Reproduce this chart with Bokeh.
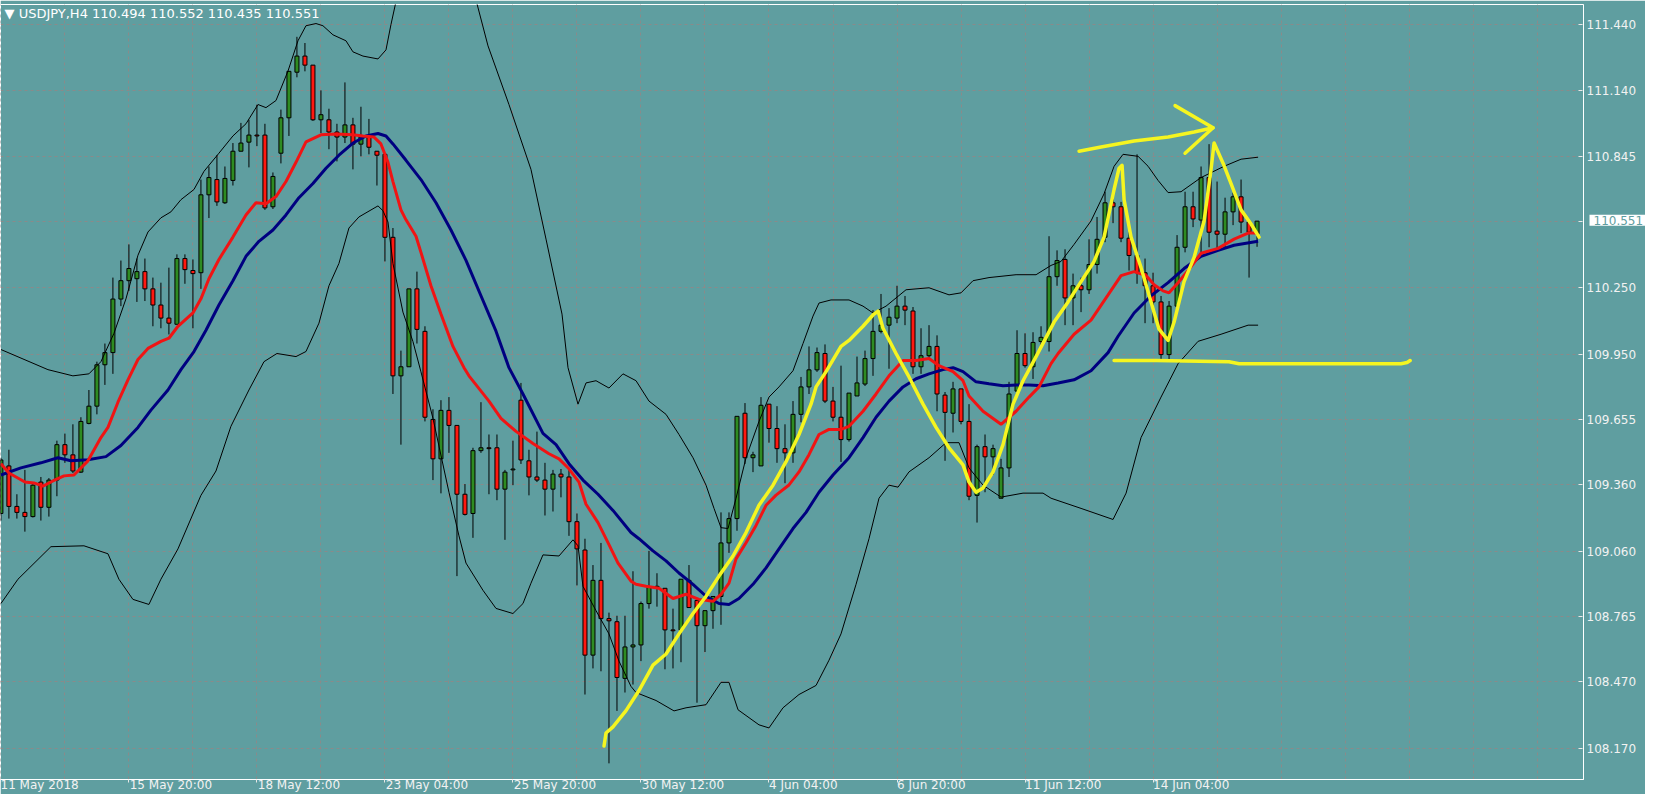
import numpy as np
from bokeh.plotting import figure
from bokeh.models import Range1d, FixedTicker, PrintfTickFormatter, Label, ColumnDataSource
from bokeh.embed import file_html
from bokeh.resources import INLINE

# ---------------- data (USDJPY H4) ----------------
opens = [109.230, 109.445, 109.262, 109.235, 109.216, 109.372, 109.258, 109.381, 109.541, 109.495,
         109.417, 109.637, 109.715, 109.902, 109.957, 110.199, 110.282, 110.291, 110.323, 110.245,
         110.172, 110.113, 110.085, 110.382, 110.328, 110.318, 110.670, 110.739, 110.634, 110.735,
         110.867, 110.908, 110.940, 110.940, 110.616, 110.858, 111.018, 111.224, 111.297, 111.256,
         111.009, 111.009, 110.954, 110.931, 110.986, 110.899, 110.936, 110.867, 110.853, 110.478,
         109.852, 109.893, 110.245, 110.053, 109.655, 109.477, 109.696, 109.628, 109.317, 109.230,
         109.514, 109.527, 109.527, 109.340, 109.427, 109.742, 109.468, 109.395, 109.381, 109.340,
         109.408, 109.395, 109.193, 109.065, 108.590, 108.928, 108.755, 108.741, 108.485, 108.627,
         108.636, 108.823, 108.896, 108.892, 108.704, 108.704, 108.928, 108.837, 108.723, 108.791,
         108.855, 109.097, 109.207, 109.683, 109.482, 109.445, 109.724, 109.614, 109.523, 109.504,
         109.678, 109.802, 109.879, 109.953, 109.738, 109.665, 109.564, 109.761, 109.815, 109.930,
         110.053, 110.081, 110.113, 110.167, 110.145, 109.893, 109.943, 109.985, 109.765, 109.683,
         109.793, 109.646, 109.312, 109.532, 109.486, 109.299, 109.436, 109.783, 109.953, 109.893,
         110.007, 110.007, 110.300, 110.378, 110.204, 110.259, 110.241, 110.355, 110.478, 110.634,
         110.616, 110.474, 110.396, 110.318, 110.259, 110.186, 109.948, 110.167, 110.433, 110.616,
         110.556, 110.748, 110.506, 110.492, 110.593, 110.661, 110.547, 110.494]
highs = [109.482, 109.518, 109.317, 109.427, 109.367, 109.395, 109.390, 109.559, 109.591, 109.633,
         109.665, 109.788, 109.916, 109.998, 110.296, 110.373, 110.446, 110.382, 110.382, 110.296,
         110.273, 110.341, 110.401, 110.401, 110.378, 110.739, 110.798, 110.849, 110.798, 110.904,
         110.995, 111.009, 111.077, 110.991, 110.771, 111.055, 111.228, 111.384, 111.356, 111.256,
         111.142, 111.059, 110.991, 111.178, 111.018, 111.068, 111.013, 110.867, 110.853, 110.520,
         109.966, 110.245, 110.323, 110.076, 109.701, 109.742, 109.756, 109.628, 109.363, 109.527,
         109.733, 109.587, 109.587, 109.427, 109.559, 109.820, 109.518, 109.600, 109.459, 109.427,
         109.431, 109.427, 109.230, 109.116, 108.997, 109.097, 108.782, 108.768, 108.768, 108.969,
         108.832, 109.061, 108.960, 108.892, 108.800, 108.933, 108.997, 108.837, 108.791, 108.855,
         109.235, 109.235, 109.669, 109.729, 109.509, 109.756, 109.724, 109.715, 109.633, 109.738,
         109.847, 109.985, 109.980, 109.994, 109.802, 109.898, 109.774, 109.939, 109.966, 110.149,
         110.222, 110.158, 110.259, 110.213, 110.163, 110.067, 110.081, 110.035, 109.779, 109.825,
         109.793, 109.724, 109.541, 109.587, 109.541, 109.477, 109.825, 110.058, 110.044, 110.049,
         110.076, 110.483, 110.419, 110.424, 110.314, 110.296, 110.469, 110.570, 110.684, 110.684,
         110.638, 110.501, 110.853, 110.382, 110.318, 110.213, 110.190, 110.488, 110.684, 110.684,
         110.798, 110.899, 110.730, 110.657, 110.680, 110.739, 110.547, 110.552]
lows = [109.198, 109.207, 109.207, 109.148, 109.212, 109.198, 109.216, 109.308, 109.459, 109.413,
        109.413, 109.633, 109.678, 109.811, 109.861, 110.167, 110.236, 110.186, 110.190, 110.076,
        110.067, 110.039, 110.085, 110.268, 110.067, 110.245, 110.565, 110.620, 110.629, 110.712,
        110.867, 110.794, 110.890, 110.602, 110.606, 110.812, 110.936, 111.201, 111.228, 111.004,
        110.949, 110.876, 110.821, 110.904, 110.785, 110.844, 110.853, 110.712, 110.369, 109.770,
        109.541, 109.893, 109.998, 109.646, 109.381, 109.321, 109.504, 108.947, 109.221, 109.120,
        109.504, 109.317, 109.290, 109.111, 109.358, 109.454, 109.312, 109.372, 109.221, 109.239,
        109.303, 109.129, 108.905, 108.412, 108.530, 108.517, 108.101, 108.338, 108.421, 108.457,
        108.563, 108.800, 108.809, 108.526, 108.530, 108.558, 108.805, 108.375, 108.604, 108.709,
        108.727, 109.052, 109.152, 109.454, 109.417, 109.445, 109.550, 109.459, 109.367, 109.459,
        109.642, 109.770, 109.870, 109.729, 109.646, 109.463, 109.555, 109.761, 109.806, 109.852,
        110.044, 109.884, 110.090, 110.081, 109.861, 109.861, 109.930, 109.692, 109.468, 109.596,
        109.633, 109.290, 109.189, 109.326, 109.404, 109.299, 109.395, 109.783, 109.889, 109.838,
        109.985, 109.962, 110.259, 110.081, 110.081, 110.140, 110.222, 110.314, 110.456, 110.542,
        110.456, 110.328, 110.268, 110.090, 110.090, 109.921, 109.925, 110.154, 110.410, 110.524,
        110.410, 110.433, 110.428, 110.428, 110.533, 110.497, 110.296, 110.435]
closes = [109.472, 109.262, 109.235, 109.216, 109.358, 109.258, 109.381, 109.541, 109.495, 109.422,
          109.646, 109.715, 109.902, 109.957, 110.199, 110.282, 110.337, 110.323, 110.245, 110.172,
          110.113, 110.090, 110.382, 110.332, 110.314, 110.670, 110.748, 110.638, 110.744, 110.867,
          110.904, 110.940, 110.936, 110.611, 110.753, 111.018, 111.228, 111.297, 111.256, 111.009,
          111.032, 110.954, 110.931, 110.986, 110.899, 110.931, 110.885, 110.849, 110.478, 109.852,
          109.893, 110.245, 110.062, 109.665, 109.477, 109.696, 109.628, 109.317, 109.226, 109.514,
          109.527, 109.523, 109.340, 109.417, 109.431, 109.472, 109.395, 109.381, 109.340, 109.408,
          109.395, 109.193, 109.070, 108.590, 108.928, 108.755, 108.745, 108.489, 108.627, 108.636,
          108.823, 108.896, 108.901, 108.704, 108.700, 108.933, 108.805, 108.723, 108.791, 108.855,
          109.097, 109.207, 109.669, 109.482, 109.495, 109.719, 109.614, 109.523, 109.504, 109.678,
          109.802, 109.879, 109.957, 109.738, 109.665, 109.564, 109.774, 109.820, 109.930, 110.053,
          110.081, 110.117, 110.167, 110.149, 109.893, 109.943, 109.985, 109.770, 109.687, 109.793,
          109.646, 109.308, 109.532, 109.486, 109.523, 109.436, 109.770, 109.953, 109.898, 110.003,
          110.026, 110.300, 110.373, 110.204, 110.259, 110.241, 110.355, 110.469, 110.634, 110.616,
          110.474, 110.396, 110.318, 110.259, 110.186, 109.948, 110.167, 110.433, 110.616, 110.561,
          110.748, 110.501, 110.492, 110.593, 110.661, 110.547, 110.501, 110.551]

# fast MA (red)
ma_fast_x = [0, 1, 3, 4.13, 5.25, 6.5, 7.88, 9.13, 10.88, 12.5, 13.38, 14.63, 15.88, 17.13, 18.38, 20, 21,
             22.13, 24, 25, 26, 27.25, 29, 30.63, 31.88, 33.13, 34.38, 35.63, 36.88, 38.13, 40, 41.88, 44,
             45.25, 46.63, 47.5, 48.38, 49, 50, 50.63, 51.88, 52.5, 53.75, 55, 56.5, 57.88, 58.5, 61, 62.5,
             64.38, 66.5, 68.5, 69.75, 71, 72.25, 73.13, 74.63, 76, 77.13, 78.75, 79.38, 80.63, 82.25, 84,
             85.63, 87.25, 89, 90, 91, 91.88, 93.13, 94.38, 95.63, 96.88, 98.5, 99.75, 101, 102.25, 103.5,
             105, 106, 107.75, 109.38, 111, 112.75, 114.38, 116, 117.25, 119, 120.25, 121, 122.75, 125,
             126.88, 128.5, 129.75, 131.25, 132.13, 134.13, 136.25, 138.38, 140, 141.63, 143.13, 144.13,
             145.25, 146, 147.13, 148.38, 150, 152.13, 154.13, 155.88, 157.13]
ma_fast_y = [109.455, 109.413, 109.372, 109.368, 109.354, 109.377, 109.400, 109.404, 109.468, 109.573,
             109.619, 109.733, 109.834, 109.926, 109.976, 110.008, 110.022, 110.076, 110.136, 110.200,
             110.291, 110.378, 110.479, 110.579, 110.634, 110.630, 110.662, 110.730, 110.817, 110.909,
             110.941, 110.945, 110.941, 110.936, 110.931, 110.900, 110.817, 110.730, 110.602, 110.557,
             110.483, 110.410, 110.259, 110.131, 109.985, 109.889, 109.852, 109.738, 109.660, 109.601,
             109.546, 109.500, 109.477, 109.432, 109.372, 109.272, 109.189, 109.089, 109.006, 108.924,
             108.910, 108.901, 108.892, 108.846, 108.865, 108.842, 108.833, 108.865, 108.915, 109.025,
             109.098, 109.176, 109.267, 109.313, 109.359, 109.418, 109.496, 109.587, 109.610, 109.610,
             109.624, 109.692, 109.770, 109.852, 109.921, 109.921, 109.930, 109.898, 109.871, 109.830,
             109.761, 109.692, 109.633, 109.692, 109.756, 109.802, 109.907, 109.953, 110.040, 110.104,
             110.218, 110.305, 110.323, 110.305, 110.264, 110.236, 110.227, 110.273, 110.328, 110.406,
             110.428, 110.470, 110.497, 110.497]

# slow MA (navy)
ma_slow_x = [0, 2.5, 5, 7.13, 8.75, 10.88, 13.13, 15, 17.13, 18.75, 20.88, 22.5, 24.13, 25.63, 27.25, 29,
             30.63, 32.25, 34, 35.63, 37.25, 39, 40.63, 42.25, 44, 45.63, 47.13, 48.13, 49, 50.63, 52.5,
             54.38, 56.25, 58.13, 60, 61.88, 63.5, 65.25, 67.75, 69.38, 71, 72.75, 74.63, 76.5, 78.75,
             79.75, 81.5, 83.13, 84.75, 86.5, 88.13, 89.75, 91, 92.25, 94, 95.63, 97.25, 99, 100.63,
             102.25, 104, 106, 107.75, 109.38, 111, 112.75, 114.38, 116, 117.75, 119, 120.25, 121.88,
             123.5, 125.25, 126.88, 128.5, 130.25, 132.13, 134.13, 136.25, 138.38, 139.63, 141.63,
             143.75, 145.88, 147.88, 150, 152.13, 154.13, 157.13]
ma_slow_y = [109.404, 109.436, 109.459, 109.482, 109.468, 109.473, 109.487, 109.537, 109.619, 109.697,
             109.788, 109.880, 109.962, 110.058, 110.172, 110.282, 110.392, 110.460, 110.511, 110.579,
             110.657, 110.721, 110.790, 110.849, 110.904, 110.936, 110.947, 110.936, 110.900, 110.826,
             110.739, 110.634, 110.511, 110.374, 110.214, 110.054, 109.889, 109.770, 109.592, 109.541,
             109.455, 109.381, 109.317, 109.244, 109.144, 109.116, 109.061, 109.016, 108.961, 108.910,
             108.856, 108.823, 108.819, 108.846, 108.910, 108.984, 109.070, 109.162, 109.235, 109.326,
             109.404, 109.482, 109.573, 109.665, 109.738, 109.802, 109.839, 109.861, 109.880, 109.889,
             109.871, 109.825, 109.816, 109.807, 109.811, 109.811, 109.807, 109.820, 109.834, 109.875,
             109.957, 110.031, 110.136, 110.214, 110.273, 110.337, 110.392, 110.419, 110.442, 110.460]

# Bollinger upper band
bb_up_x = [0, 5.88, 9, 11, 12.5, 14.13, 15.63, 17.13, 18.38, 20, 21.25, 22.5, 24.13, 25.38, 27.25, 29,
           30.63, 32.13, 33.13, 34.38, 35.88, 37.13, 38.13, 39.38, 40.25, 41.5, 43.13, 44, 45.25, 47.13,
           48.13, 48.75, 49.63, 51.25, 54.38, 57.5, 59.13, 60.88, 63.5, 66.25, 68.13, 70.13, 70.88,
           72.13, 73.13, 74.38, 76, 77.75, 79.38, 81, 83.13, 84.75, 86.5, 88.13, 89.13, 90, 90.88,
           91.88, 93.13, 94.75, 96, 97.25, 99, 100.25, 101.5, 102.25, 103.75, 106, 107.75, 109, 110.63,
           113.13, 116, 118.5, 120, 121.5, 123.5, 126.88, 129.38, 131.25, 132.5, 134.13, 136.25,
           137.88, 139.13, 140.25, 142.13, 143.38, 144.63, 145.88, 147.5, 150, 152.88, 155, 157.13]
bb_up_y = [109.971, 109.880, 109.852, 109.861, 109.916, 110.044, 110.200, 110.397, 110.502, 110.566,
           110.593, 110.648, 110.694, 110.776, 110.858, 110.936, 110.991, 111.078, 111.064, 111.096,
           111.229, 111.366, 111.434, 111.444, 111.434, 111.393, 111.366, 111.316, 111.297, 111.284,
           111.325, 111.439, 111.585, 111.768, 111.905, 111.768, 111.585, 111.343, 111.078, 110.785,
           110.470, 110.131, 109.889, 109.724, 109.820, 109.830, 109.797, 109.861, 109.830, 109.738,
           109.678, 109.587, 109.482, 109.358, 109.253, 109.166, 109.162, 109.299, 109.482, 109.646,
           109.756, 109.802, 109.875, 109.998, 110.122, 110.181, 110.195, 110.195, 110.167, 110.136,
           110.167, 110.241, 110.250, 110.218, 110.227, 110.282, 110.296, 110.309, 110.309, 110.351,
           110.369, 110.446, 110.552, 110.675, 110.799, 110.853, 110.844, 110.799, 110.735, 110.680,
           110.684, 110.748, 110.799, 110.831, 110.840]

# Bollinger lower band
bb_lo_x = [0, 2.13, 6.25, 10.38, 13.38, 14.75, 16.5, 18.5, 20, 22.13, 25, 26.88, 28.75, 31, 32.88, 34.5,
           36.88, 38.13, 39.75, 41, 42.25, 43.5, 44.75, 47.13, 47.75, 48.38, 49, 50.25, 51.5, 52.5, 54,
           56, 57.25, 58.13, 60.25, 61.88, 64, 65.25, 66.25, 67.75, 69.75, 71.5, 72.13, 72.75, 74.38,
           76, 77.25, 78.75, 79.38, 81.88, 84.13, 85.63, 88.13, 90, 91, 92.13, 94.75, 96, 97.75, 99.75,
           101.88, 103.5, 105, 106.88, 108.5, 109.75, 111, 112.13, 113.5, 116, 118.13, 119.75, 121,
           122.75, 125, 127.75, 130.25, 131.25, 135, 139, 140.63, 142.5, 145, 147.13, 149.63, 152.5,
           155.88, 157.13]
bb_lo_y = [108.823, 108.933, 109.080, 109.084, 109.048, 108.933, 108.842, 108.819, 108.933, 109.070,
           109.312, 109.422, 109.624, 109.788, 109.916, 109.953, 109.939, 109.962, 110.090, 110.259,
           110.360, 110.520, 110.570, 110.620, 110.598, 110.547, 110.360, 110.140, 110.007, 109.870,
           109.660, 109.326, 109.129, 109.006, 108.883, 108.801, 108.778, 108.823, 108.915, 109.043,
           109.038, 109.111, 109.084, 108.901, 108.791, 108.686, 108.563, 108.449, 108.421, 108.385,
           108.338, 108.352, 108.366, 108.467, 108.467, 108.343, 108.275, 108.261, 108.352, 108.412,
           108.453, 108.567, 108.686, 108.910, 109.116, 109.299, 109.358, 109.349, 109.418, 109.482,
           109.550, 109.550, 109.436, 109.358, 109.304, 109.322, 109.322, 109.299, 109.253, 109.203,
           109.322, 109.573, 109.756, 109.907, 110.008, 110.040, 110.081, 110.081]

# hand-drawn yellow annotations
zig_x = [75.38, 75.63, 76.5, 78.13, 79.75, 81.5, 83.13, 84.75, 86.5, 88.13, 89.75, 91.5, 93.13, 94.75,
         96.5, 98.13, 99.75, 101.25, 101.88, 103.13, 105, 106, 107.75, 109, 109.63, 110.25, 111.88,
         113.5, 115.25, 116.88, 118.5, 120.25, 121, 121.88, 122.75, 124, 125.25, 126.5, 127.75, 129.38,
         131.63, 133.38, 135, 136.63, 137.88, 139.13, 139.75, 140.13, 140.38, 141.25, 142.5, 143.75,
         144.75, 145.88, 146.63, 147.88, 149.13, 150.38, 151.25, 151.63, 152.75, 153.75, 155, 156.25,
         157.25]
zig_y = [108.179, 108.238, 108.266, 108.339, 108.430, 108.545, 108.595, 108.686, 108.778, 108.856,
         108.947, 109.038, 109.144, 109.267, 109.358, 109.464, 109.587, 109.724, 109.802, 109.871,
         109.985, 110.012, 110.076, 110.127, 110.145, 110.067, 109.953, 109.847, 109.724, 109.619,
         109.527, 109.450, 109.372, 109.326, 109.345, 109.418, 109.541, 109.724, 109.830, 109.939,
         110.095, 110.186, 110.278, 110.369, 110.479, 110.694, 110.790, 110.803, 110.648, 110.479,
         110.341, 110.186, 110.063, 110.012, 110.095, 110.278, 110.387, 110.552, 110.785, 110.904,
         110.813, 110.721, 110.602, 110.538, 110.479]
arrow_x = [134.75, 137.5, 141.63, 145.88, 149.13, 151.5]
arrow_y = [110.867, 110.886, 110.913, 110.931, 110.954, 110.973]
head_x = [146.75, 151.5, 148.0]
head_y = [111.073, 110.973, 110.858]
support_x = [139.13, 144.38, 153.5, 154.75, 175, 175.75, 176.13]
support_y = [109.921, 109.921, 109.916, 109.907, 109.907, 109.912, 109.921]

price_ticks = [111.44, 111.14, 110.845, 110.551, 110.25, 109.95, 109.655, 109.36, 109.06, 108.765,
               108.47, 108.17]
time_ticks = [0, 16, 32, 48, 64, 80, 96, 112, 128, 144]
time_labels = ["11 May 2018", "15 May 20:00", "18 May 12:00", "23 May 04:00", "25 May 20:00",
               "30 May 12:00", "4 Jun 04:00", "6 Jun 20:00", "11 Jun 12:00", "14 Jun 04:00"]
symbol_text = "\u25BC USDJPY,H4  110.494 110.552 110.435 110.551"
last_price = 110.551

# ---------------- figure ----------------
BG = "#5F9EA0"
X_END = 197.8
Y_TOP = 111.530
SCALE_W = 62          # width of the price-scale strip on the right
p = figure(width=1645, height=794, output_backend="svg", toolbar_location=None,
           x_range=Range1d(-0.05, X_END), y_range=Range1d(108.028, Y_TOP),
           y_axis_location="right", min_border_left=0, min_border_top=4,
           min_border_right=SCALE_W, min_border_bottom=0)
p.background_fill_color = BG
p.border_fill_color = BG
p.outline_line_color = "white"
p.outline_line_width = 1

FONT = "DejaVu Sans"

# x axis (labels start at the tick, as in MetaTrader)
xa = p.xaxis[0]
xa.axis_line_color = "white"
xa.major_tick_line_color = "#e8e8e8"
xa.minor_tick_line_color = None
xa.major_tick_in = 0
xa.major_tick_out = 3
xa.major_label_standoff = -5
xa.axis_label_standoff = 0
xa.major_label_text_color = "#f2f2f2"
xa.major_label_text_font = FONT
xa.major_label_text_font_size = "12px"
xa.ticker = FixedTicker(ticks=time_ticks)
# approximate glyph widths (em) of DejaVu Sans, used to left-align the centred tick labels
_w = {**{d: 0.636 for d in "0123456789"}, " ": 0.318, ":": 0.337, "M": 0.863, "a": 0.613,
      "y": 0.592, "J": 0.295, "u": 0.634, "n": 0.634}
def _left(s):
    n = round(sum(_w.get(ch, 0.6) for ch in s) / 0.318)
    return "\u00a0" * n + s
overrides = {t: _left(s) for t, s in zip(time_ticks, time_labels)}
overrides[time_ticks[0]] = time_labels[0]   # first label is pushed inside the canvas anyway
xa.major_label_overrides = overrides

# price label box, kept in the right strip so that it is not clipped by the frame
price_label = Label(x=X_END, y=last_price, x_offset=6, y_offset=1, text=f"{last_price:.3f}",
                    text_baseline="middle", text_align="left", text_color="#5F9EA0",
                    text_font=FONT, text_font_size="12px",
                    background_fill_color="white",
                    padding=dict(left=4, right=3, top=1, bottom=1))

# y axis: drawn after the price-label slot, offsets bring ticks / labels back next to the frame
ya = p.yaxis[0]
ya.axis_line_color = None
ya.major_tick_line_color = "#e8e8e8"
ya.minor_tick_line_color = None
ya.major_tick_in = SCALE_W
ya.major_tick_out = 4 - SCALE_W
ya.major_label_standoff = 8 - SCALE_W
ya.major_label_text_color = "#f2f2f2"
ya.major_label_text_font = FONT
ya.major_label_text_font_size = "12px"
ya.ticker = FixedTicker(ticks=price_ticks)
ya.formatter = PrintfTickFormatter(format="%.3f")
ya.major_label_overrides = {last_price: ""}
p.right = [price_label, ya]

p.xgrid.ticker = FixedTicker(ticks=list(range(0, 200, 8)))
for g in (p.xgrid[0], p.ygrid[0]):
    g.grid_line_color = "#8a8a8a"
    g.grid_line_dash = "3 3"
    g.grid_line_width = 1

# candles
idx = np.arange(len(opens))
o = np.array(opens); h = np.array(highs); l = np.array(lows); c = np.array(closes)
src = ColumnDataSource(dict(
    x=idx, high=h, low=l,
    top=np.maximum(o, c), bottom=np.minimum(o, c),
    fill=["#2E8B22" if cc >= oo else "#FF1A10" for oo, cc in zip(opens, closes)]))
p.segment(x0="x", y0="low", x1="x", y1="high", source=src, line_color="black", line_width=1)
p.vbar(x="x", width=0.5, top="top", bottom="bottom", source=src,
       fill_color="fill", line_color="black", line_width=1)

# bollinger bands
p.line(bb_up_x, bb_up_y, line_color="black", line_width=1)
p.line(bb_lo_x, bb_lo_y, line_color="black", line_width=1)

# moving averages
p.line(ma_slow_x, ma_slow_y, line_color="#000080", line_width=3)
p.line(ma_fast_x, ma_fast_y, line_color="#F01414", line_width=3)

# yellow drawings
YEL = "#F5F520"
p.line(zig_x, zig_y, line_color=YEL, line_width=3.5, line_join="round", line_cap="round")
p.line(arrow_x, arrow_y, line_color=YEL, line_width=3.5, line_cap="round")
p.line(head_x, head_y, line_color=YEL, line_width=3.5, line_join="round", line_cap="round")
p.line(support_x, support_y, line_color=YEL, line_width=3.5, line_cap="round")

# symbol caption
p.add_layout(Label(x=-0.05, y=Y_TOP, x_offset=4, y_offset=-1, text=symbol_text,
                   text_baseline="top", text_align="left", text_color="white",
                   text_font=FONT, text_font_size="13px"))

open("out.html", "w").write(file_html(p, INLINE))
